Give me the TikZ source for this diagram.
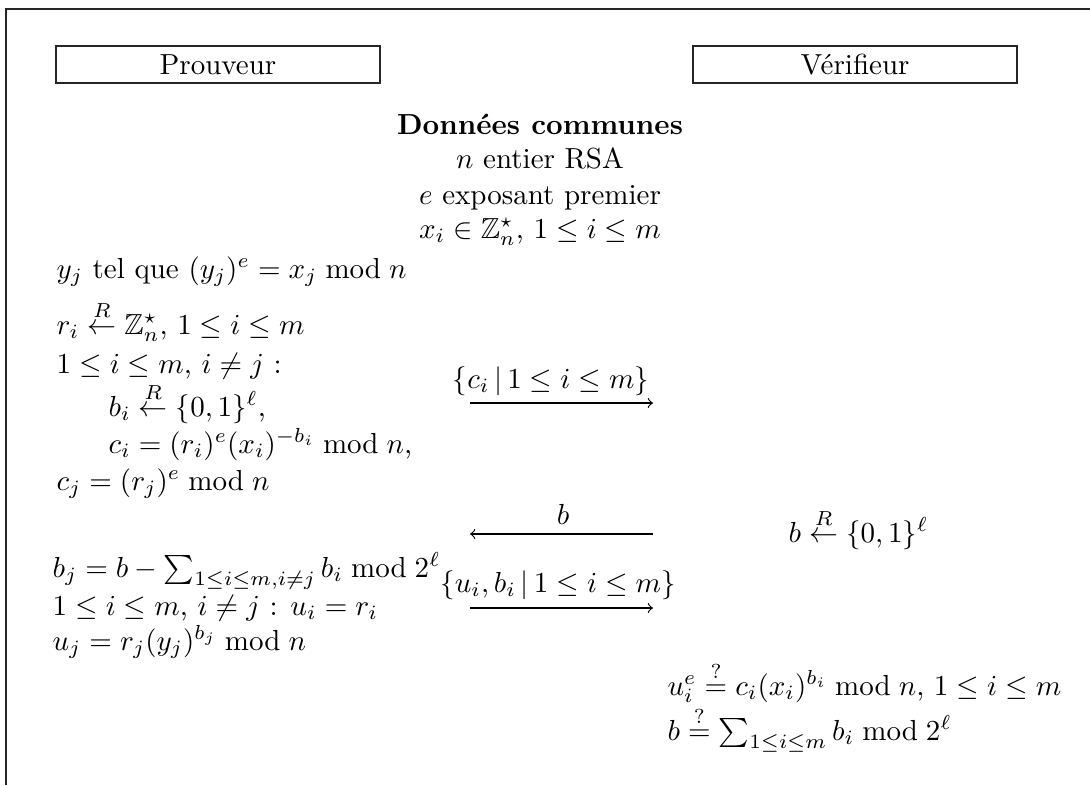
\documentclass[tikz,border=0pt]{standalone}
\usepackage{amsmath,amssymb}
\usetikzlibrary{positioning}

\begin{document}
\begin{tikzpicture}[
    x=0.3448pt, y=-0.3448pt,
    party/.style={
        rectangle, draw=black!85, line width=0.5pt,
        minimum width=111.7pt, minimum height=12.8pt, inner sep=0pt
    },
    txt/.style={anchor=base west, inner sep=0pt},
    ctr/.style={anchor=base, inner sep=0pt},
    msg/.style={->, line width=0.4pt}
]
\useasboundingbox (0,0) rectangle (1090,785);
\draw[line width=0.6pt, black!85] (6,785) -- (6,9) -- (1090,9);

% participants
\node[party] (prover) at (218,64.5) {Prouveur};
\node[party] (verifier) at (855,64.5) {V\'erifieur};

% common data
\node[ctr] (common) at (540,134) {\textbf{Donn\'ees communes}};
\node[ctr] (rsa) at (540,168) {$n$ entier RSA};
\node[ctr] (expo) at (540,204) {$e$ exposant premier};
\node[ctr] (xs) at (540,238) {$x_i \in \mathbb{Z}_n^\star$, $1 \le i \le m$};

% prover, commitment
\node[txt] (secret) at (56,278) {$y_j$ tel que $(y_j)^e = x_j \bmod n$};
\node[txt] (ri) at (56,334) {$r_i \stackrel{R}{\leftarrow} \mathbb{Z}_n^\star$, $1 \le i \le m$};
\node[txt] (loop) at (56,373) {$1 \le i \le m$, $i \ne j$ :};
\node[txt] (bi) at (108,416) {$b_i \stackrel{R}{\leftarrow} \{0,1\}^\ell$,};
\node[txt] (ci) at (108,453) {$c_i = (r_i)^e (x_i)^{-b_i} \bmod n$,};
\node[txt] (cj) at (56,490) {$c_j = (r_j)^e \bmod n$};

% prover, response
\node[txt] (bj) at (52,577) {$b_j = b - \sum_{1 \le i \le m, i \ne j} b_i \bmod 2^\ell$};
\node[txt] (ui) at (52,615) {$1 \le i \le m$, $i \ne j$ : $u_i = r_i$};
\node[txt] (uj) at (52,650) {$u_j = r_j (y_j)^{b_j} \bmod n$};

% verifier
\node[txt] (chal) at (788,542) {$b \stackrel{R}{\leftarrow} \{0,1\}^\ell$};
\node[txt] (chk1) at (667,695) {$u_i^e \stackrel{?}{=} c_i (x_i)^{b_i} \bmod n$, $1 \le i \le m$};
\node[txt] (chk2) at (667,740) {$b \stackrel{?}{=} \sum_{1 \le i \le m} b_i \bmod 2^\ell$};

% messages
\coordinate (m1a) at (470,403);
\coordinate (m1b) at (653,403);
\coordinate (m2a) at (470,534);
\coordinate (m2b) at (653,534);
\coordinate (m3a) at (470,608);
\coordinate (m3b) at (653,608);
\node[ctr] (l1) at (551,388) {$\{c_i \,|\, 1 \le i \le m\}$};
\node[ctr] (l2) at (563,524) {$b$};
\node[ctr] (l3) at (558,592) {$\{u_i, b_i \,|\, 1 \le i \le m\}$};

\draw[msg] (m1a) -- (m1b);
\draw[msg] (m2b) -- (m2a);
\draw[msg] (m3a) -- (m3b);
\end{tikzpicture}
\end{document}
